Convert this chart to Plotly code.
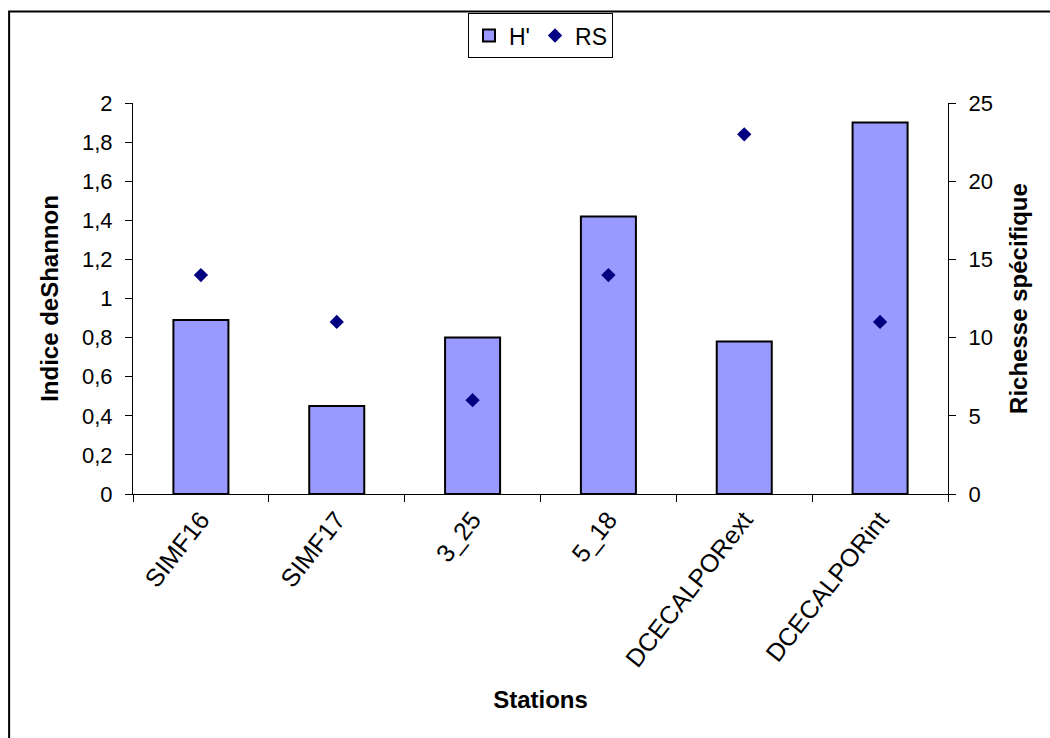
import plotly.graph_objects as go

stations = ["SIMF16", "SIMF17", "3_25", "5_18", "DCECALPORext", "DCECALPORint"]
shannon = [0.89, 0.45, 0.80, 1.42, 0.78, 1.90]
richesse = [14, 11, 6, 14, 23, 11]

left_ticks = [0, 0.2, 0.4, 0.6, 0.8, 1.0, 1.2, 1.4, 1.6, 1.8, 2.0]
left_labels = ["0", "0,2", "0,4", "0,6", "0,8", "1", "1,2", "1,4", "1,6", "1,8", "2"]
right_ticks = [0, 5, 10, 15, 20, 25]

FONT = "Liberation Sans, Arial, sans-serif"

fig = go.Figure()
fig.add_trace(go.Bar(
    x=stations, y=shannon, name="H'",
    marker=dict(color="#9999FF", line=dict(color="black", width=2)),
    width=0.405,
))
fig.add_trace(go.Scatter(
    x=stations, y=richesse, name="RS", yaxis="y2", mode="markers",
    marker=dict(symbol="diamond", size=11, color="#000080"),
))

axis_common = dict(
    showgrid=False, zeroline=False, showline=True, linecolor="black", linewidth=1,
    ticks="outside", ticklen=7, tickcolor="black",
)

fig.update_layout(
    width=1050, height=738,
    margin=dict(l=133, r=102, t=103, b=244),
    paper_bgcolor="white", plot_bgcolor="white",
    font=dict(family=FONT, color="black"),
    bargap=0.595,
    showlegend=True,
    legend=dict(
        orientation="h", x=0.5, xanchor="center", y=1.23, yanchor="top",
        bordercolor="black", borderwidth=1, bgcolor="white",
        font=dict(family=FONT, size=23, color="black"),
        itemwidth=30, tracegroupgap=0,
    ),
    xaxis=dict(
        **axis_common, tickangle=-52, tickson="boundaries",
        tickfont=dict(family=FONT, size=25, color="black"),
        title=dict(text="<b>Stations</b>", font=dict(family=FONT, size=24), standoff=20),
    ),
    yaxis=dict(
        **axis_common, range=[0, 2], tickvals=left_ticks, ticktext=left_labels,
        tickfont=dict(family=FONT, size=22, color="black"), ticklabelstandoff=8,
        title=dict(text="<b>Indice deShannon</b>", font=dict(family=FONT, size=24), standoff=16),
    ),
    yaxis2=dict(
        **axis_common, overlaying="y", side="right", range=[0, 25], tickvals=right_ticks,
        tickfont=dict(family=FONT, size=22, color="black"), ticklabelstandoff=8,
        title=dict(text="<b>Richesse spécifique</b>", font=dict(family=FONT, size=24), standoff=18),
    ),
    shapes=[dict(
        type="rect", xref="paper", yref="paper",
        x0=-0.152, x1=1.3, y0=-0.8, y1=1.2337,
        line=dict(color="black", width=2), fillcolor="rgba(0,0,0,0)", layer="below",
    )],
)

fig.write_html("out.html")
